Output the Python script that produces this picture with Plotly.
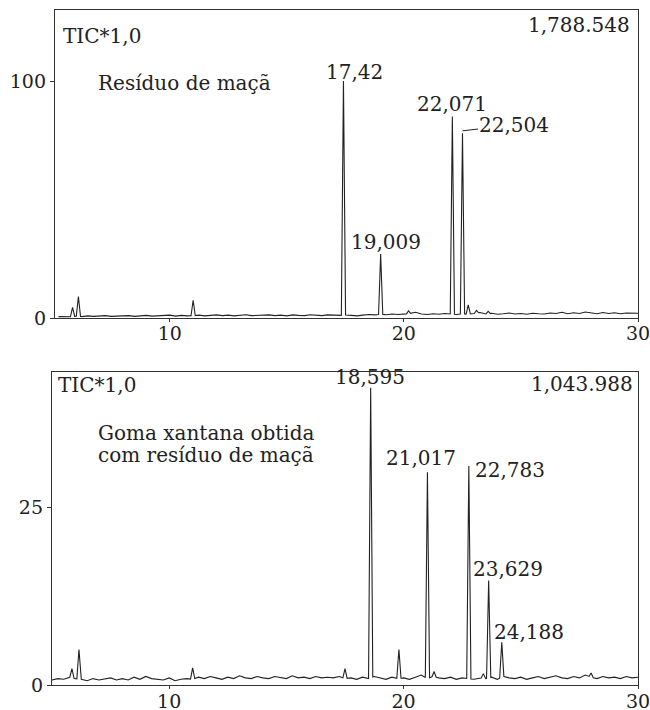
import numpy as np
import plotly.graph_objects as go

# ---------------- data ----------------
# Top panel: "Resíduo de maçã"
top_base_start, base_step = 5.25, 0.25
top_baseline = [0.6,0.7,0.5,0.8,0.6,0.9,0.7,0.8,1.0,0.7,0.9,
                0.8,1.0,0.7,0.9,1.1,0.8,1.0,0.9,1.2,0.8,1.1,0.9,
                1.0,1.2,0.9,1.1,1.3,1.0,1.2,0.9,1.1,1.4,1.0,1.2,
                1.1,1.3,1.0,1.2,0.9,1.3,1.1,1.0,1.4,1.2,1.0,1.3,
                1.2,1.0,1.3,1.1,0.9,1.2,1.5,1.3,1.6,1.4,1.7,1.5,
                1.6,1.9,2.4,1.7,1.5,1.8,1.6,1.9,1.7,1.5,1.8,1.6,
                1.9,2.3,1.7,2.0,1.6,1.8,2.1,1.7,1.9,1.6,2.0,1.8,
                1.7,2.1,1.9,2.4,1.8,2.2,1.9,2.5,2.0,1.8,2.3,1.9,
                2.2,1.8,2.1,1.9,2.0]
top_peak_rt = [5.85, 6.1, 11.0, 17.42, 19.009, 20.2, 22.071, 22.504, 22.75, 23.1, 23.6]
top_peak_h = [4.5, 9.0, 7.5, 100.0, 27.0, 3.0, 85.0, 78.0, 5.5, 3.2, 2.8]

# Bottom panel: "Goma xantana obtida com resíduo de maçã"
bot_base_start = 5.0
bot_baseline = [0.7,0.9,0.8,1.1,0.9,0.8,0.6,0.9,0.7,0.8,1.0,0.7,
                0.9,0.7,1.1,0.8,1.2,0.9,0.8,0.7,1.0,0.6,0.8,0.9,
                0.8,1.1,0.9,1.2,1.0,0.8,1.1,0.9,1.3,1.0,0.9,1.2,
                1.0,0.9,1.2,1.1,0.9,1.3,1.0,1.1,0.9,1.2,1.0,1.1,
                1.0,1.2,0.9,1.0,0.8,1.1,0.9,1.2,1.0,0.8,1.1,0.9,
                1.0,0.8,1.1,1.4,0.9,1.2,1.0,0.9,1.1,0.8,1.0,0.9,
                0.8,1.0,0.9,1.1,0.8,1.2,1.0,0.9,1.1,0.8,1.0,1.2,
                0.9,1.1,1.3,1.0,0.9,1.2,1.0,1.4,1.1,0.9,1.2,1.0,
                1.1,0.9,1.2,1.0,1.1]
bot_peak_rt = [5.85, 6.15, 11.0, 17.5, 18.595, 19.8, 21.017, 21.3, 22.783, 23.4, 23.629, 24.188, 28.0]
bot_peak_h = [2.3, 5.0, 2.4, 2.3, 41.8, 5.0, 29.9, 1.9, 30.8, 1.6, 14.7, 6.0, 1.7]

top_labels = ["17,42", "19,009", "22,071", "22,504"]
bot_labels = ["18,595", "21,017", "22,783", "23,629", "24,188"]
top_scale = "1,788.548"
bot_scale = "1,043.988"
top_title = "Resíduo de maçã"
bot_title_lines = ["Goma xantana obtida", "com resíduo de maçã"]
tic_text = "TIC*1,0"

# ---------------- build traces ----------------
HALF_W = 0.09


def build_trace(start, baseline, rts, hs):
    bx = start + base_step * np.arange(len(baseline))
    by = np.array(baseline, dtype=float)
    pts = []
    for x, y in zip(bx, by):
        if all(abs(x - r) > HALF_W for r in rts):
            pts.append((x, y))
    for r, h in zip(rts, hs):
        for dx in (-HALF_W, HALF_W):
            pts.append((r + dx, float(np.interp(r + dx, bx, by))))
        pts.append((r, h))
    pts.sort()
    return [p[0] for p in pts], [p[1] for p in pts]


tx, ty = build_trace(top_base_start, top_baseline, top_peak_rt, top_peak_h)
bx_, by_ = build_trace(bot_base_start, bot_baseline, bot_peak_rt, bot_peak_h)

FONT = "DejaVu Serif"
FS = 20
TFS = 19
INK = "#222222"

# full-window figure; the page's body margin is removed by the post script
FW, FH = 650, 710


def px_x(px):
    return px / FW


def px_y(py):
    return 1 - py / FH


fig = go.Figure()
fig.add_trace(go.Scatter(x=tx, y=ty, mode="lines", line=dict(color=INK, width=1.1),
                         xaxis="x", yaxis="y", showlegend=False, hoverinfo="skip"))
fig.add_trace(go.Scatter(x=bx_, y=by_, mode="lines", line=dict(color=INK, width=1.1),
                         xaxis="x2", yaxis="y2", showlegend=False, hoverinfo="skip"))

top_px = dict(l=55, r=638, t=10, b=318)
bot_px = dict(l=52, r=638, t=372, b=685)


def axis(**kw):
    d = dict(showline=True, mirror=True, linecolor="#333333", linewidth=1.3,
             ticks="outside", tickcolor="#333333", showgrid=False,
             zeroline=False, tickfont=dict(family=FONT, size=TFS, color=INK),
             ticklabeloverflow="allow", automargin=False)
    d.update(kw)
    return d


fig.update_layout(
    width=FW, height=FH, margin=dict(l=0, r=0, t=0, b=0, autoexpand=False),
    paper_bgcolor="white", plot_bgcolor="white",
    xaxis=axis(domain=[px_x(top_px["l"]), px_x(top_px["r"])], range=[5.1, 30],
               tickvals=[10, 20, 30], anchor="y", ticklen=3, ticklabelstandoff=-5),
    yaxis=axis(domain=[px_y(top_px["b"]), px_y(top_px["t"])], range=[0, 130],
               tickvals=[0, 100], anchor="x", ticklen=4),
    xaxis2=axis(domain=[px_x(bot_px["l"]), px_x(bot_px["r"])], range=[5.0, 30],
                tickvals=[10, 20, 30], anchor="y2", ticklen=3, ticklabelstandoff=-4),
    yaxis2=axis(domain=[px_y(bot_px["b"]), px_y(bot_px["t"])], range=[0, 44],
                tickvals=[0, 25], anchor="x2", ticklen=4),
    font=dict(family=FONT, size=FS, color=INK),
)

tf = dict(family=FONT, size=FS, color=INK)
ann = []


def text_at(t, px, py, xanchor="center"):
    ann.append(dict(text=t, xref="paper", yref="paper", x=px_x(px), y=px_y(py),
                    xanchor=xanchor, yanchor="middle", showarrow=False, font=tf))


# top panel
text_at(tic_text, 61, 36, "left")
text_at(top_scale, 632, 25, "right")
text_at(top_title, 96, 83, "left")
for t, (px, py) in zip(top_labels[:3], [(354, 72), (386, 242), (452, 104)]):
    text_at(t, px, py)
ann.append(dict(text=top_labels[3], xref="x", yref="y", x=top_peak_rt[7], y=top_peak_h[7] + 1,
                ax=52, ay=-6, showarrow=True, arrowhead=0, arrowwidth=1,
                arrowcolor=INK, font=tf, standoff=0))

# bottom panel
text_at(tic_text, 56, 385, "left")
text_at(bot_scale, 635, 384, "right")
text_at(bot_title_lines[0], 96, 433, "left")
text_at(bot_title_lines[1], 96, 455, "left")
for t, (px, py) in zip(bot_labels, [(370, 377), (421, 458), (510, 470), (508, 569), (529, 632)]):
    text_at(t, px, py)

fig.update_layout(annotations=ann)
fig.write_html(
    "out.html",
    config={"displayModeBar": False},
    post_script=(
        "document.body.style.margin='0';"
        "document.documentElement.style.overflow='hidden';"
    ),
)
